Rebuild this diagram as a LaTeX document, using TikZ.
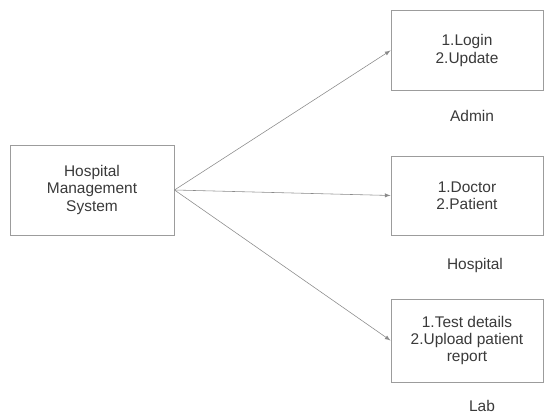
\documentclass[tikz,border=0pt]{standalone}
\usepackage{fontspec}
\setmainfont{Liberation Sans}
\usepackage{tikz}
\usetikzlibrary{arrows}
\definecolor{khunggray}{HTML}{9C9C9C}
\definecolor{muigray}{HTML}{8A8A8A}
\definecolor{chugray}{HTML}{3A3A3A}

\begin{document}
\begin{tikzpicture}[
	hopbox/.style={draw=khunggray,line width=0.7pt,fill=white,inner sep=0pt,align=center,text=chugray,font=\fontsize{11}{12.2}\selectfont},
	nhan/.style={anchor=base,text=chugray,font=\fontsize{11}{12.2}\selectfont},
	muiten/.style={draw=muigray,line width=0.4pt,-latex}]
			\useasboundingbox (0.,0.) rectangle (13.6,10.4);
			\node[hopbox,minimum width=4.1cm,minimum height=2.25cm] (hms) at (2.3,5.65) {Hospital\\Management\\System};
			\node[hopbox,minimum width=3.8cm,minimum height=1.975cm] (admin) at (11.675,9.1375) {1.Login\\2.Update};
			\node[hopbox,minimum width=3.8cm,minimum height=1.975cm] (hosp) at (11.675,5.5125) {1.Doctor\\2.Patient};
			\node[hopbox,minimum width=3.8cm,minimum height=2.075cm] (lab) at (11.675,1.8875) {1.Test details\\2.Upload patient\\report};
				\draw[muiten] (hms.east) -- (admin.west);
				\draw[muiten] (hms.east) -- (hosp.west);
				\draw[muiten] (hms.east) -- (lab.west);
				\node[nhan] (tadmin) at (11.8,7.35) {Admin};
				\node[nhan] (thosp) at (11.875,3.67) {Hospital};
				\node[nhan] (tlab) at (12.05,0.1) {Lab};
		\end{tikzpicture}
\end{document}
